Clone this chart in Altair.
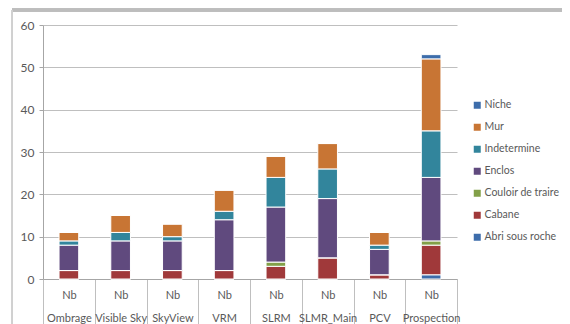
import altair as alt
import pandas as pd

categories = ["Ombrage", "Visible Sky", "SkyView", "VRM", "SLRM", "SLMR_Main", "PCV", "Prospection"]
series = ["Abri sous roche", "Cabane", "Couloir de traire", "Enclos", "Indetermine", "Mur", "Niche"]
abri = [0, 0, 0, 0, 0, 0, 0, 1]
cabane = [2, 2, 2, 2, 3, 5, 1, 7]
couloir = [0, 0, 0, 0, 1, 0, 0, 1]
enclos = [6, 7, 7, 12, 13, 14, 6, 15]
indetermine = [1, 2, 1, 2, 7, 7, 1, 11]
mur = [2, 4, 3, 5, 5, 6, 3, 17]
niche = [0, 0, 0, 0, 0, 0, 0, 1]
colors = ["#3D6DAB", "#A0393A", "#82A048", "#604A7E", "#32859C", "#C87534", "#3D6DAB"]

values = [abri, cabane, couloir, enclos, indetermine, mur, niche]
rows = []
for si, (name, vals) in enumerate(zip(series, values)):
    for c, v in zip(categories, vals):
        rows.append({"cat": c, "serie": name, "order": si, "val": v})
df = pd.DataFrame(rows)

FONT = "Lato"
TXT = "#595959"

bars = alt.Chart(df).mark_bar(
    width=alt.RelativeBandSize(0.38), stroke="white", strokeWidth=1
).encode(
    x=alt.X("cat:N", sort=categories, title=None,
            scale=alt.Scale(paddingInner=0, paddingOuter=0),
            axis=alt.Axis(labelExpr="datum.value ? ['Nb', datum.value] : ''", labelAngle=0,
                          labelLineHeight=23, labelPadding=-40, tickSize=50,
                          tickBand="extent", tickColor="#BFBFBF",
                          domainColor="#A6A6A6", labelColor=TXT,
                          labelFontSize=11, labelFont=FONT, grid=False)),
    y=alt.Y("val:Q", stack="zero", title=None,
            scale=alt.Scale(domain=[0, 60]),
            axis=alt.Axis(values=[0, 10, 20, 30, 40, 50, 60], tickSize=4,
                          tickColor="#A6A6A6", domainColor="#A6A6A6",
                          gridColor="#BFBFBF", labelColor=TXT, labelFontSize=12,
                          labelFont=FONT, labelPadding=5)),
    color=alt.Color("serie:N",
                    scale=alt.Scale(domain=series[::-1], range=colors[::-1]),
                    legend=alt.Legend(title=None, orient="none", legendX=429, legendY=75,
                                      symbolType="square", symbolSize=49,
                                      symbolStrokeWidth=0, labelFontSize=10.5,
                                      labelFont=FONT, labelColor=TXT,
                                      rowPadding=11, labelOffset=2)),
    order=alt.Order("order:Q"),
)

top_line = alt.Chart(df).mark_rule(color="#BDBDBD", strokeWidth=3).encode(
    x=alt.value(-31), x2=alt.value(527), y=alt.value(-15))
left_line = alt.Chart(df).mark_rule(color="#D0D0D0", strokeWidth=1).encode(
    x=alt.value(-31), y=alt.value(-15), y2=alt.value(300))

chart = alt.layer(top_line, left_line, bars).properties(
    width=414, height=254,
    autosize=alt.AutoSizeParams(type="none"),
    padding={"left": 35, "top": 17, "right": 105, "bottom": 45},
).configure_view(strokeWidth=0)

chart.save("out.html", embed_options={"renderer": "svg", "actions": False})
